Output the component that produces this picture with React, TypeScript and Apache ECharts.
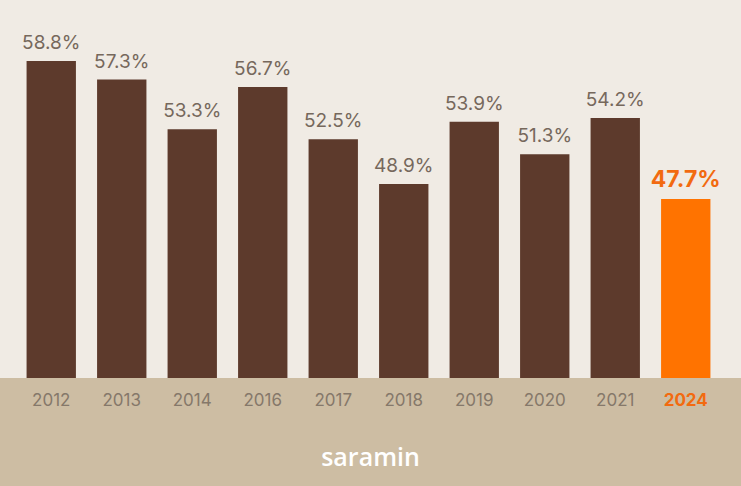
import React, { useEffect, useRef } from "react";
import * as echarts from "echarts";

const years = ["2012", "2013", "2014", "2016", "2017", "2018", "2019", "2020", "2021", "2024"];
const rates = [58.8, 57.3, 53.3, 56.7, 52.5, 48.9, 53.9, 51.3, 54.2, 47.7];
const highlightYear = "2024";

const BROWN = "#5d3a2c";
const ORANGE = "#ff7300";

export default function App() {
  const ref = useRef<HTMLDivElement>(null);
  useEffect(() => {
    if (!ref.current) return;
    const chart = echarts.init(ref.current, null, { renderer: "svg" });
    const data = rates.map((v, i) => {
      const hi = years[i] === highlightYear;
      return {
        value: v,
        itemStyle: { color: hi ? ORANGE : BROWN },
        label: hi
          ? { color: "#f26a10", fontWeight: "bold", fontSize: 23, distance: 8 }
          : undefined,
      };
    });
    chart.setOption({
      animation: false,
      backgroundColor: "#f0ebe4",
      textStyle: { fontFamily: "Inter, 'Noto Sans', sans-serif" },
      grid: { left: 16, right: 20, top: 46, bottom: 108 },
      graphic: [
        {
          type: "rect",
          z: -1,
          shape: { x: 0, y: 378, width: 741, height: 108 },
          style: { fill: "#cdbda3" },
        },
        {
          type: "text",
          left: "center",
          top: 443,
          style: {
            text: "saramin",
            fill: "#ffffff",
            font: "600 25px 'Open Sans', Inter, sans-serif",
          },
        },
      ],
      xAxis: {
        type: "category",
        data: years,
        axisLine: { show: false },
        axisTick: { show: false },
        axisLabel: {
          interval: 0,
          margin: 13,
          fontSize: 17,
          color: "#85786a",
          fontFamily: "Inter, sans-serif",
          formatter: (v: string) => (v === highlightYear ? `{hi|${v}}` : v),
          rich: {
            hi: { color: "#f26a10", fontWeight: "bold", fontSize: 17, fontFamily: "Inter, sans-serif" },
          },
        },
      },
      yAxis: {
        type: "value",
        min: 33.3,
        max: 60,
        show: false,
        splitLine: { show: false },
      },
      series: [
        {
          type: "bar",
          data,
          barWidth: "70%",
          label: {
            show: true,
            position: "top",
            distance: 9,
            fontSize: 19,
            color: "#76685c",
            fontFamily: "Inter, sans-serif",
            formatter: (p: any) => `${p.value}%`,
          },
        },
      ],
    });
    return () => chart.dispose();
  }, []);
  return (
    <div
      ref={ref}
      style={{ position: "fixed", left: 0, top: 0, width: 741, height: 486 }}
    />
  );
}
